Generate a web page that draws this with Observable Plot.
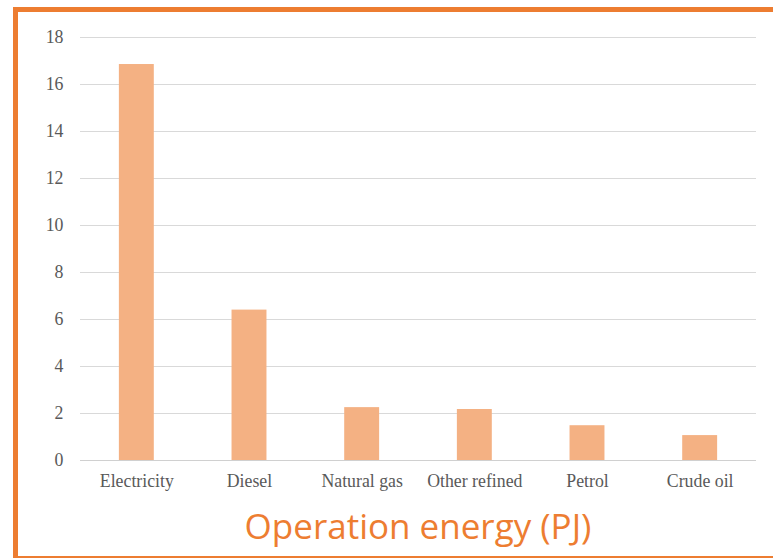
<!DOCTYPE html>
<html>
<head>
<meta charset="utf-8">
<script src="https://cdn.jsdelivr.net/npm/d3@7"></script>
<script src="https://cdn.jsdelivr.net/npm/@observablehq/plot@0.6"></script>
<style>
  html, body { margin: 0; padding: 0; background: #fff; width: 773px; height: 560px; overflow: hidden; }
  #frame { position: absolute; left: 13px; top: 7px; width: 900px; height: 544px;
           border-left: 5px solid #ED7D31; border-top: 5px solid #ED7D31; border-bottom: 2px solid #ED7D31; }
  #chart { position: absolute; left: 0; top: 0; }
  #title { position: absolute; left: 80px; width: 676px; top: 505px; text-align: center;
           font-family: "Open Sans", sans-serif; font-size: 35px; color: #ED7D31; line-height: 1.2; }
</style>
</head>
<body>
<div id="frame"></div>
<div id="chart"></div>
<div id="title">Operation energy (PJ)</div>
<script>
const categories = ["Electricity", "Diesel", "Natural gas", "Other refined", "Petrol", "Crude oil"];
const values = [16.85, 6.4, 2.25, 2.17, 1.48, 1.06];
const yTicks = [0, 2, 4, 6, 8, 10, 12, 14, 16, 18];

const data = categories.map((c, i) => ({category: c, value: values[i]}));

const chart = Plot.plot({
  width: 773,
  height: 500,
  marginLeft: 80,
  marginRight: 17,
  marginTop: 37,
  marginBottom: 40,
  style: { fontFamily: "'Liberation Serif', serif", fontSize: "17.8px", color: "#595959", background: "transparent" },
  x: { domain: categories, paddingInner: 0.69, paddingOuter: 0.345, round: false, label: null },
  y: { domain: [0, 18], label: null },
  marks: [
    Plot.gridY(yTicks, { stroke: "#d9d9d9", strokeOpacity: 1 }),
    Plot.barY(data, { x: "category", y: "value", fill: "#F4B183" }),
    Plot.ruleY([0], { stroke: "#d0d0d0" }),
    Plot.axisY(yTicks, { tickSize: 0, tickPadding: 17, label: null, fill: "#595959" }),
    Plot.axisX({ tickSize: 0, tickPadding: 14, label: null, fill: "#595959" })
  ]
});
document.getElementById("chart").appendChild(chart);
</script>
</body>
</html>
